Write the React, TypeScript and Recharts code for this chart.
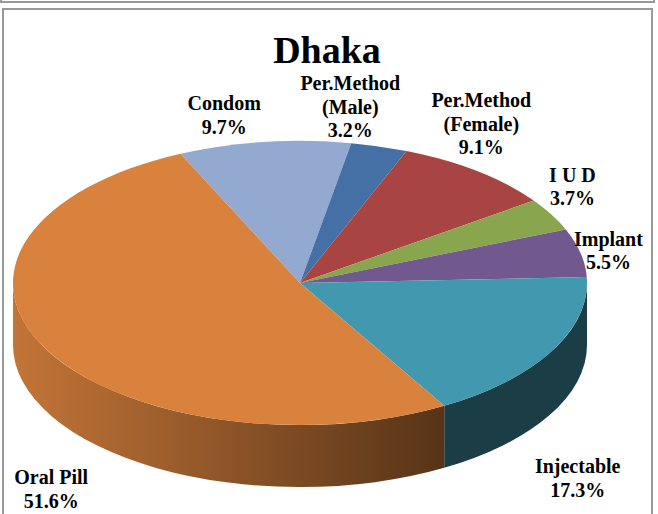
import { PieChart, Pie, Cell } from 'recharts'

const categories = ['Condom', 'Per.Method\n(Male)', 'Per.Method\n(Female)', 'I U D', 'Implant', 'Injectable', 'Oral Pill']
const values = [9.7, 3.2, 9.1, 3.7, 5.5, 17.3, 51.6]
const COLORS = ['#93a9cf', '#4470a6', '#a84543', '#89a54e', '#71588f', '#4198af', '#d9823d']

// small per-label nudges (Excel's best-fit placement), relative to the rim point at midAngle
const LABEL_NUDGE: Record<string, [number, number]> = {
  Condom: [-40, -32],
  'Per.Method\n(Male)': [-29, -56],
  'Per.Method\n(Female)': [4, -64],
  'I U D': [21, -33],
  Implant: [28, -7],
  Injectable: [26, 122],
  'Oral Pill': [6, 136],
}

const data = categories.map((name, i) => ({ name, value: values[i] }))

const TILT = 0.495
const DEPTH = 62
const RAD = Math.PI / 180
const FONT = '"Liberation Serif", "Times New Roman", serif'

function shade(hex: string, f: number) {
  const n = parseInt(hex.slice(1), 16)
  const r = Math.round(((n >> 16) & 255) * f)
  const g = Math.round(((n >> 8) & 255) * f)
  const b = Math.round((n & 255) * f)
  return `rgb(${r},${g},${b})`
}

function Slice3D(props: any) {
  const { cx, cy, outerRadius, startAngle, endAngle, fill } = props
  const rx = outerRadius
  const ry = outerRadius * TILT
  const pt = (a: number, dy = 0) => `${cx + rx * Math.cos(a * RAD)},${cy - ry * Math.sin(a * RAD) + dy}`
  const a1 = Math.min(startAngle, endAngle)
  const a2 = Math.max(startAngle, endAngle)
  const large = a2 - a1 > 180 ? 1 : 0
  const top = `M${cx},${cy} L${pt(a2)} A${rx},${ry} 0 ${large} 1 ${pt(a1)} Z`

  // front wall: parts of the arc in the lower half of the ellipse
  const walls: string[] = []
  for (let k = -2; k <= 2; k++) {
    const lo = Math.max(a1, 180 + 360 * k)
    const hi = Math.min(a2, 360 + 360 * k)
    if (hi > lo) {
      const lg = hi - lo > 180 ? 1 : 0
      walls.push(
        `M${pt(hi)} A${rx},${ry} 0 ${lg} 1 ${pt(lo)} L${pt(lo, DEPTH)} A${rx},${ry} 0 ${lg} 0 ${pt(hi, DEPTH)} Z`
      )
    }
  }
  const gid = `side-${String(fill).replace('#', '')}`
  return (
    <g>
      <defs>
        <linearGradient id={gid} gradientUnits="userSpaceOnUse" x1={cx - rx} y1={0} x2={cx + rx} y2={0}>
          <stop offset="0" stopColor={shade(fill, 0.9)} />
          <stop offset="0.75" stopColor={shade(fill, 0.4)} />
          <stop offset="1" stopColor={shade(fill, 0.4)} />
        </linearGradient>
      </defs>
      {walls.map((d, i) => (
        <path key={i} d={d} fill={`url(#${gid})`} stroke="none" />
      ))}
      <path d={top} fill={fill} stroke="none" />
    </g>
  )
}

function renderLabel(props: any) {
  const { cx, cy, midAngle, outerRadius, name, value } = props
  const x0 = cx + outerRadius * Math.cos(midAngle * RAD)
  const y0 = cy - outerRadius * TILT * Math.sin(midAngle * RAD)
  const [dx, dy] = LABEL_NUDGE[name] ?? [0, 0]
  const x = x0 + dx
  const lines = [...String(name).split('\n'), `${Number(value).toFixed(1)}%`]
  return (
    <text
      x={x}
      y={y0 + dy}
      textAnchor="middle"
      fontFamily={FONT}
      fontWeight="bold"
      fontSize={20}
      fill="#000"
    >
      {lines.map((l, i) => (
        <tspan key={i} x={x} dy={i === 0 ? 0 : 23.5}>
          {l}
        </tspan>
      ))}
    </text>
  )
}

export default function App() {
  return (
    <div style={{ position: 'absolute', left: 0, top: 0, width: 658, height: 514, overflow: 'hidden', background: '#fff' }}>
      <div style={{ position: 'absolute', left: 0, top: -10, width: 651, height: 9, border: '2px solid #999' }} />
      <div style={{ position: 'absolute', left: 2, top: 8, width: 647, height: 520, border: '2px solid #999' }} />
      <PieChart
        width={658}
        height={514}
        margin={{ top: 0, right: 0, bottom: 0, left: 0 }}
        style={{ position: 'absolute', left: 0, top: 0 }}
      >
        <Pie
          data={data}
          dataKey="value"
          nameKey="name"
          cx={300}
          cy={283}
          outerRadius={287}
          startAngle={114.6}
          endAngle={-245.4}
          stroke="none"
          shape={Slice3D}
          label={renderLabel}
          labelLine={false}
          isAnimationActive={false}
        >
          {data.map((_, index) => (
            <Cell key={`cell-${index}`} fill={COLORS[index]} />
          ))}
        </Pie>
      </PieChart>
      <svg width={658} height={514} style={{ position: 'absolute', left: 0, top: 0, pointerEvents: 'none' }}>
        <text x={327} y={63} textAnchor="middle" fontFamily={FONT} fontWeight="bold" fontSize={38} fill="#000">
          Dhaka
        </text>
      </svg>
    </div>
  )
}
